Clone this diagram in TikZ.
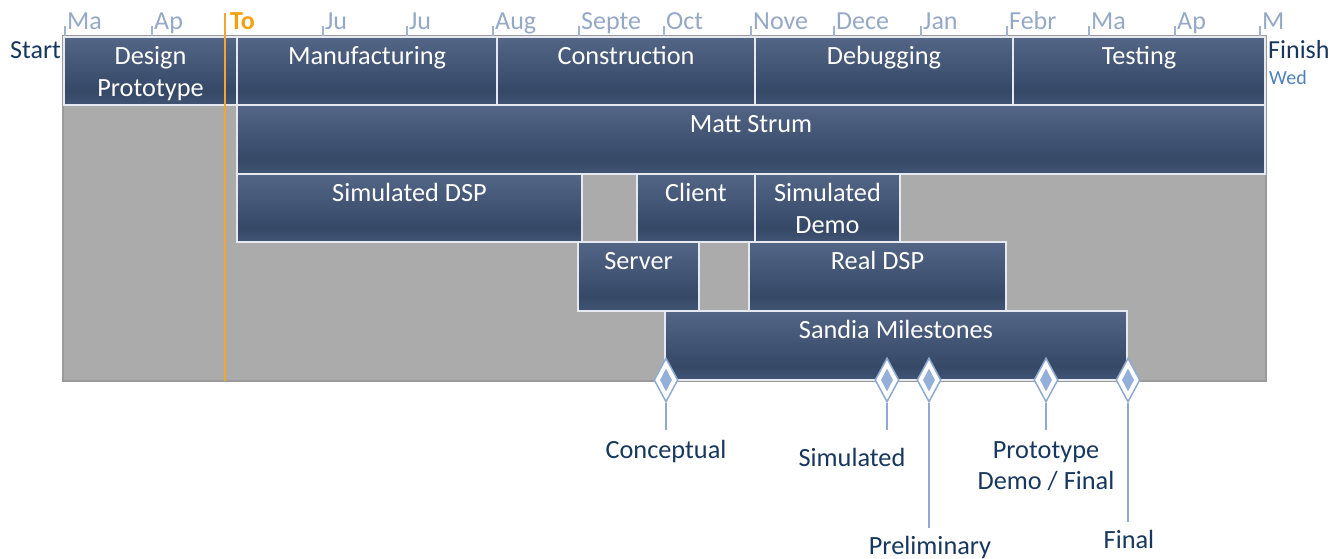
\documentclass[tikz,border=0pt]{standalone}
\usepackage{fontspec}
\setmainfont{Carlito}
\usetikzlibrary{shapes.geometric}
\definecolor{btop}{HTML}{67789A}
\definecolor{bdark}{HTML}{354866}
\definecolor{bbot}{HTML}{63758F}
\definecolor{bbot2}{HTML}{53668A}
\definecolor{frameg}{HTML}{ABABAB}
\definecolor{framed}{HTML}{9A9A9A}
\definecolor{monthc}{HTML}{95A8C6}
\definecolor{tickc}{HTML}{A3B3CB}
\definecolor{navy}{HTML}{17375E}
\definecolor{wedc}{HTML}{4F81BD}
\definecolor{todayc}{HTML}{F2A531}
\definecolor{todayt}{HTML}{F5A00A}
\definecolor{msborder}{HTML}{8EAAD2}
\definecolor{msfill}{HTML}{95B0D8}
\definecolor{barline}{HTML}{E6EAF0}
\pgfdeclareverticalshading{barshade}{100bp}{color(0bp)=(bbot); color(12bp)=(bbot2); color(35bp)=(bdark); color(100bp)=(btop)}
% #7 = offset of the LAST text line's baseline below the bar top
\newcommand\ganttbar[7]{%
  \node[bar, anchor=north west, minimum width={(#4-#2)*1pt}, minimum height={(#5-#3)*1pt}] (#1) at (#2,#3) {};
  \node[bartext, anchor=base] (#1t) at ({(#2+#4)/2},{#3+#7}) {#6};
}
\begin{document}
\begin{tikzpicture}[x=1pt,y=-1pt,
  bar/.style={shading=barshade, draw=barline, line width=1.2pt, inner sep=0pt, outer sep=0pt},
  bartext/.style={text=white, font=\fontsize{26.3}{32}\selectfont, align=center, inner sep=0pt},
  month/.style={text=monthc, font=\fontsize{26}{30}\selectfont, anchor=base west, inner sep=0pt},
  tickline/.style={draw=tickc, line width=1.2pt},
  side/.style={text=navy, font=\fontsize{26}{30}\selectfont, inner sep=0pt},
  ms/.style={diamond, aspect=0.55, draw=msborder, fill=white, line width=1.5pt, minimum width=24pt, minimum height=44pt, inner sep=0pt},
  msin/.style={diamond, aspect=0.55, fill=msfill, minimum width=12pt, minimum height=23pt, inner sep=0pt},
  msline/.style={draw=msborder, line width=1.2pt},
  mslabel/.style={text=navy, font=\fontsize{26.3}{31}\selectfont, align=center, inner sep=0pt, anchor=base}
]
\useasboundingbox (0,0) rectangle (1344,559);
% frame
\path[fill=frameg, draw=framed, line width=1.5pt] (63,36) rectangle (1266,381);
% month ticks and labels
\foreach \x/\m in {65/Ma,152/Ap,323/Ju,407/Ju,493/Aug,579/Septe,664/Oct,751/Nove,834/Dece,921/Jan,1007/Febr,1089/Ma,1175/Ap,1260/M}{
  \draw[tickline] (\x,26) -- (\x,36);
  \node[month] at (\x+2,30) {\m};
}
\node[month, text=todayt, font=\fontsize{26}{30}\selectfont\bfseries] (today) at (230,30) {To};
% side labels
\node[side, anchor=base east] (start) at (61,59) {Start};
\node[side, anchor=base west] (finish) at (1268,59) {Finish};
\node[text=wedc, font=\fontsize{20}{24}\selectfont, anchor=base west, inner sep=0pt] (wed) at (1269,85) {Wed};
% bars
\ganttbar{design}{64}{37}{237}{105}{Design\\Prototype}{59.5}
\ganttbar{manuf}{237}{37}{497}{105}{Manufacturing}{27.5}
\ganttbar{constr}{497}{37}{755}{105}{Construction}{27.5}
\ganttbar{debug}{755}{37}{1013}{105}{Debugging}{27.5}
\ganttbar{testing}{1013}{37}{1265}{105}{Testing}{27.5}
\ganttbar{matt}{237}{105}{1265}{174}{Matt Strum}{27.5}
\ganttbar{simdsp}{237}{174}{582}{242}{Simulated DSP}{27.5}
\ganttbar{client}{637}{174}{755}{242}{Client}{27.5}
\ganttbar{simdemo}{755}{174}{900}{242}{Simulated\\Demo}{59.5}
\ganttbar{server}{578}{242}{699}{311}{Server}{27.5}
\ganttbar{realdsp}{749}{242}{1006}{311}{Real DSP}{27.5}
\ganttbar{sandia}{665}{311}{1127}{380}{Sandia Milestones}{27.5}
% today line
\draw[draw=todayc, line width=1.2pt] (225,13) -- (225,381);
% milestones
\foreach \n/\x/\e in {1/666/430,2/887/430,3/929/528,4/1046/430,5/1128/522}{
  \coordinate (e\n) at (\x,\e);
  \node[ms] (m\n) at (\x,380) {};
  \node[msin] (mi\n) at (m\n) {};
  \draw[msline] (m\n.south) -- (e\n);
}
\node[mslabel] (l1) at (666,458) {Conceptual};
\node[mslabel] (l2) at (852,466) {Simulated};
\node[mslabel] (l3) at (930,554) {Preliminary};
\node[mslabel] (l4) at (1046,489) {Prototype\\Demo / Final};
\node[mslabel] (l5) at (1129,548) {Final};
\end{tikzpicture}
\end{document}
